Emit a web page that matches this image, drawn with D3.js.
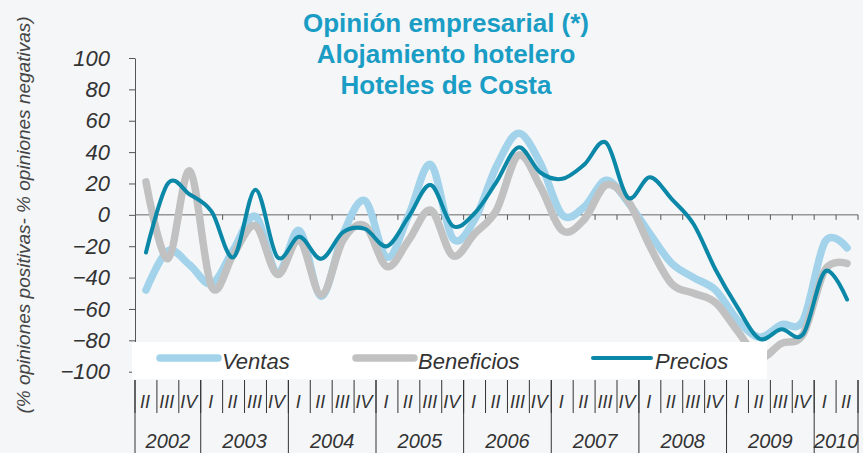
<!DOCTYPE html>
<html>
<head>
<meta charset="utf-8">
<script src="https://cdn.jsdelivr.net/npm/d3@7"></script>
<style>
  body { margin: 0; background: #f5f6f8; }
  svg { display: block; font-family: "Liberation Sans", Arial, sans-serif; }
</style>
</head>
<body>
<svg id="chart"></svg>
<script>
const years = ['2002', '2003', '2004', '2005', '2006', '2007', '2008', '2009', '2010'];
const yearQuarters = [
  ['II', 'III', 'IV'],
  ['I', 'II', 'III', 'IV'],
  ['I', 'II', 'III', 'IV'],
  ['I', 'II', 'III', 'IV'],
  ['I', 'II', 'III', 'IV'],
  ['I', 'II', 'III', 'IV'],
  ['I', 'II', 'III', 'IV'],
  ['I', 'II', 'III', 'IV'],
  ['I', 'II']
];
const yTicks = [100, 80, 60, 40, 20, 0, -20, -40, -60, -80, -100];

const ventas = [-48, -23, -32, -44, -22, -1, -37, -10, -52, -12, 9, -27, 0, 32, -15, -3, 31, 52, 33, 0,
  5, 22, 8, -12, -31, -40, -48, -67, -78, -70, -67, -17, -21];
const beneficios = [21, -28, 28, -46, -25, -7, -38, -16, -51, -16, -7, -33, -16, 3, -26, -12, 3, 38, 18, -10,
  -3, 19, 9, -20, -44, -50, -56, -74, -91, -82, -76, -35, -31];
const precios = [-24, 20, 13, 2, -27, 16, -27, -14, -28, -11, -9, -20, -1, 19, -7, 1, 21, 43, 27, 23,
  32, 46, 11, 24, 10, -6, -35, -59, -79, -73, -76, -36, -54];

const series = [
  { name: 'Ventas', values: ventas, color: '#a3d3ea', width: 7.5 },
  { name: 'Beneficios', values: beneficios, color: '#c1c1c1', width: 7.5 },
  { name: 'Precios', values: precios, color: '#0b87a7', width: 4 }
];

const width = 863;
const height = 453;
const svg = d3.select('#chart').attr('width', width).attr('height', height);

const periods = years.flatMap((yr, i) => yearQuarters[i].map(q => yr + ' ' + q));
const x = d3.scaleBand().domain(periods).range([135, 858]);
const y = d3.scaleLinear().domain([-100, 100]).range([371.7, 58]);

// title
const title = ['Opinión empresarial (*)', 'Alojamiento hotelero', 'Hoteles de Costa'];
svg.append('g').selectAll('text')
  .data(title)
  .enter().append('text')
  .attr('x', 446)
  .attr('y', (d, i) => 32 + i * 31)
  .attr('text-anchor', 'middle')
  .attr('font-size', 26)
  .attr('font-weight', 'bold')
  .attr('fill', '#1a9dc5')
  .text(d => d);

// y axis
const yAxis = svg.append('g')
  .attr('transform', 'translate(135,0)')
  .call(d3.axisLeft(y).tickValues(yTicks).tickSize(6).tickSizeOuter(0).tickPadding(19));
yAxis.select('.domain').attr('stroke', '#555');
yAxis.selectAll('line').attr('stroke', '#555');
yAxis.selectAll('text')
  .attr('font-size', 22)
  .attr('font-style', 'italic')
  .attr('font-family', '"Liberation Sans", Arial, sans-serif')
  .attr('fill', '#333');

svg.append('text')
  .attr('transform', 'translate(30,215) rotate(-90)')
  .attr('text-anchor', 'middle')
  .attr('font-size', 19)
  .attr('font-style', 'italic')
  .attr('fill', '#444')
  .text('(% opiniones positivas- % opiniones negativas)');

// zero line with quarter ticks
const bounds = periods.map(p => x(p)).concat([x.range()[1]]);
svg.append('line')
  .attr('x1', 135).attr('x2', 858)
  .attr('y1', y(0)).attr('y2', y(0))
  .attr('stroke', '#666');
svg.append('g').selectAll('line')
  .data(bounds.slice(1))
  .enter().append('line')
  .attr('x1', d => d).attr('x2', d => d)
  .attr('y1', y(0)).attr('y2', y(0) + 5)
  .attr('stroke', '#555');

// series
const line = d3.line()
  .x((d, i) => x(periods[i]) + x.bandwidth() / 2)
  .y(d => y(d))
  .curve(d3.curveCatmullRom.alpha(0));

svg.append('g').selectAll('path')
  .data(series)
  .enter().append('path')
  .attr('d', d => line(d.values))
  .attr('fill', 'none')
  .attr('stroke', d => d.color)
  .attr('stroke-width', d => d.width)
  .attr('stroke-linecap', 'round')
  .attr('stroke-linejoin', 'round');

// legend
const legend = svg.append('g');
legend.append('rect')
  .attr('x', 132).attr('y', 342)
  .attr('width', 635).attr('height', 37)
  .attr('fill', '#fff');
const legendX = [160, 356, 593];
const item = legend.selectAll('g')
  .data(series)
  .enter().append('g')
  .attr('transform', (d, i) => `translate(${legendX[i]},358)`);
item.append('line')
  .attr('x1', 0).attr('x2', 58)
  .attr('stroke', d => d.color)
  .attr('stroke-width', d => d.width)
  .attr('stroke-linecap', 'round');
item.append('text')
  .attr('x', 62).attr('y', 11)
  .attr('font-size', 22)
  .attr('font-style', 'italic')
  .attr('fill', '#333')
  .text(d => d.name);

// category axis: quarters and years
const cat = svg.append('g');
cat.selectAll('line.q')
  .data(bounds)
  .enter().append('line')
  .attr('class', 'q')
  .attr('x1', d => d).attr('x2', d => d)
  .attr('y1', 380).attr('y2', 413)
  .attr('stroke', '#333');
cat.selectAll('text.q')
  .data(periods)
  .enter().append('text')
  .attr('class', 'q')
  .attr('x', d => x(d) + x.bandwidth() / 2 - 1)
  .attr('y', 408)
  .attr('text-anchor', 'middle')
  .attr('font-size', 18)
  .attr('font-style', 'italic')
  .attr('fill', '#333')
  .text(d => d.split(' ')[1]);

const yearSpans = years.map((yr, i) => {
  const ps = periods.filter(p => p.startsWith(yr));
  return { year: yr, x0: x(ps[0]), x1: x(ps[ps.length - 1]) + x.bandwidth() };
});
cat.selectAll('line.y')
  .data(yearSpans.map(d => d.x0).concat([x.range()[1]]))
  .enter().append('line')
  .attr('class', 'y')
  .attr('x1', d => d).attr('x2', d => d)
  .attr('y1', 380).attr('y2', 453)
  .attr('stroke', '#333');
cat.selectAll('text.y')
  .data(yearSpans)
  .enter().append('text')
  .attr('class', 'y')
  .attr('x', d => (d.x0 + d.x1) / 2)
  .attr('y', 448)
  .attr('text-anchor', 'middle')
  .attr('font-size', 20)
  .attr('font-style', 'italic')
  .attr('fill', '#333')
  .text(d => d.year);
</script>
</body>
</html>
